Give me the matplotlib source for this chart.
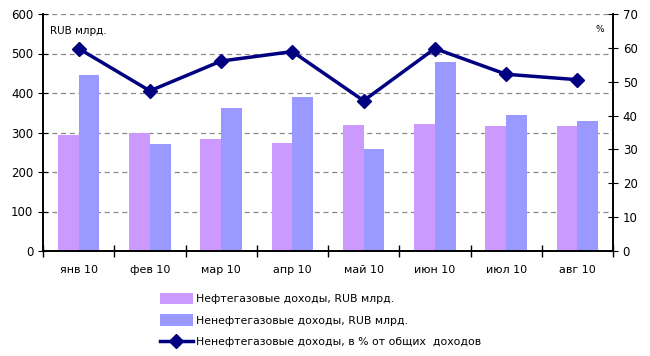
import matplotlib
matplotlib.use("Agg")
import matplotlib.pyplot as plt
import numpy as np

categories = ["янв 10", "фев 10", "мар 10", "апр 10", "май 10", "июн 10", "июл 10", "авг 10"]
oil_gas = [293, 300, 283, 273, 318, 321, 316, 316]
non_oil = [445, 270, 362, 391, 257, 478, 344, 328]
non_oil_pct = [59.8, 47.3, 56.1, 58.9, 44.4, 59.8, 52.2, 50.6]

plt.rcParams['font.family'] = ['DejaVu Sans']
fig = plt.figure(figsize=(6.5, 3.56), dpi=100)
ax = fig.add_axes([43/650, 1-251/356, (613-43)/650, (251-14)/356])
ax2 = ax.twinx()

x = np.arange(len(categories))
w = 0.29
ax.bar(x - w/2, oil_gas, width=w, color="#CC99FF", label="Нефтегазовые доходы, RUB млрд.", zorder=2)
ax.bar(x + w/2, non_oil, width=w, color="#9999FF", label="Ненефтегазовые доходы, RUB млрд.", zorder=2)
ax2.plot(x, non_oil_pct, color="#000080", lw=2.5, marker="D", ms=7.5,
         label="Ненефтегазовые доходы, в % от общих  доходов", zorder=3)

ax.set_xlim(-0.5, len(categories) - 0.5)
ax.set_ylim(0, 600)
ax2.set_ylim(0, 70)
ax.set_yticks(range(0, 601, 100))
ax2.set_yticks(range(0, 71, 10))
ax.set_xticks(x)
ax.set_xticklabels(categories)
ax.set_xticks(np.arange(-0.5, len(categories)), minor=True)
ax.tick_params(axis='x', which='major', length=0, pad=10, labelsize=8)
ax.tick_params(axis='x', which='minor', length=8, direction='inout', width=1)
ax.tick_params(axis='y', length=7, direction='inout', labelsize=8.5)
ax2.tick_params(axis='y', length=7, direction='inout', labelsize=8.5)

ax.yaxis.grid(True, linestyle=(0, (4, 3)), color="#888888", lw=0.9, zorder=0)
ax.set_axisbelow(True)
for a in (ax, ax2):
    a.spines['top'].set_visible(False)
    for s in ('left', 'right', 'bottom'):
        a.spines[s].set_color('black')
        a.spines[s].set_linewidth(1.2)

ax.text(0.012, 0.95, "RUB млрд.", transform=ax.transAxes, fontsize=7.5, va='top', ha='left')
ax2.text(0.985, 0.955, "%", transform=ax2.transAxes, fontsize=6.5, va='top', ha='right')

h1, l1 = ax.get_legend_handles_labels()
h2, l2 = ax2.get_legend_handles_labels()
fig.legend(h1 + h2, l1 + l2, loc='upper left', bbox_to_anchor=(160/650, 1-293/356),
           frameon=False, fontsize=7.8, handlelength=3.0, handleheight=1.2,
           labelspacing=0.95, borderaxespad=0, borderpad=0, handletextpad=0.3)

fig.savefig("out.png", dpi=100)
